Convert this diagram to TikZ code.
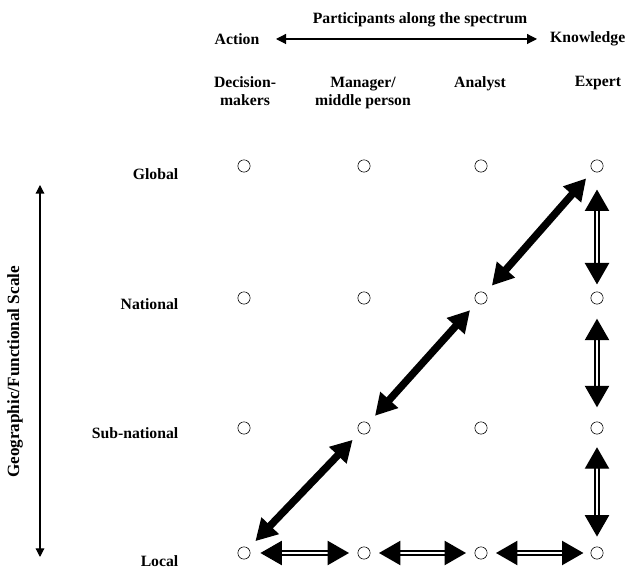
\documentclass[tikz,border=0pt]{standalone}
\usepackage{fontspec}
\setmainfont{Liberation Serif}
\usepackage{tikz}
\usetikzlibrary{arrows.meta, positioning}

\tikzset{
  spot/.style={circle,draw,thin,minimum size=8.6pt,inner sep=0pt},
  lbl/.style={font=\fontsize{11}{12.6}\selectfont\bfseries,inner sep=1pt},
  thickarrow/.style={line width=5.2pt,{Triangle[length=15pt,width=16pt]}-{Triangle[length=15pt,width=16pt]},shorten <=7pt,shorten >=7pt},
  dblarrow/.style={double,double distance=2pt,line width=0.9pt,{Triangle[length=15pt,width=17pt]}-{Triangle[length=15pt,width=17pt]}}
}

\begin{document}
\begin{tikzpicture}[x=0.7pt,y=-0.7pt]
\useasboundingbox (0,0) rectangle (627,571);
% header
\node[lbl] (title) at (420,20) {Participants along the spectrum};
\node[lbl] (action) at (237,39) {Action};
\node[lbl,anchor=east] (know) at (627,39) {Knowledge};
\draw[{Triangle[length=7pt,width=7pt]}-{Triangle[length=7pt,width=7pt]},thick] (276,39) -- (537,39);
% participant columns
\node[lbl,align=center,anchor=north] (dm) at (245,75) {Decision-\\makers};
\node[lbl,align=center,anchor=north] (mg) at (363,75) {Manager/\\middle person};
\node[lbl,anchor=north] (an) at (480,75) {Analyst};
\node[lbl,anchor=north] (ex) at (598,75) {Expert};
% scale levels
\node[lbl,anchor=east] (glob) at (180,174) {Global};
\node[lbl,anchor=east] (natl) at (180,304) {National};
\node[lbl,anchor=east] (subn) at (180,433) {Sub-national};
\node[lbl,anchor=east] (locl) at (180,561) {Local};
\draw[{Triangle[length=6pt,width=6pt]}-{Triangle[length=6pt,width=6pt]},thick] (40,185) -- (40,557);
\node[lbl,font=\fontsize{12}{14}\selectfont\bfseries,rotate=90] (scale) at (15,372) {Geographic/Functional Scale};
% grid of participants
\foreach \c/\x in {1/244,2/364,3/481,4/597} {
  \foreach \r/\y in {g/166,n/298,s/428,l/553} {
    \node[spot] (\r\c) at (\x,\y) {};
  }
}
% diagonal path
\draw[thickarrow] (g4) -- (n3);
\draw[thickarrow] (n3) -- (s2);
\draw[thickarrow] (s2) -- (l1);
% expert column
\draw[dblarrow,shorten <=12pt,shorten >=5pt] (g4) -- (n4);
\draw[dblarrow,shorten <=10pt,shorten >=10pt] (n4) -- (s4);
\draw[dblarrow,shorten <=9pt,shorten >=7pt] (s4) -- (l4);
% local row
\draw[dblarrow,shorten <=7pt,shorten >=6pt] (l1) -- (l2);
\draw[dblarrow,shorten <=6pt,shorten >=6pt] (l2) -- (l3);
\draw[dblarrow,shorten <=6pt,shorten >=5pt] (l3) -- (l4);
\end{tikzpicture}
\end{document}
